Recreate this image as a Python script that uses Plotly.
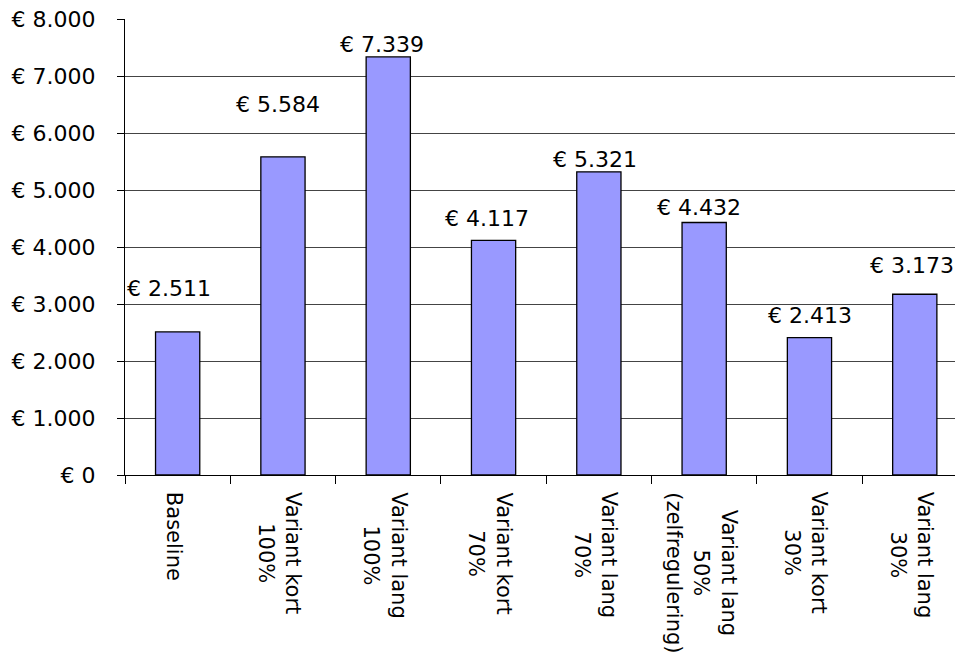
import plotly.graph_objects as go

categories = [
    "Baseline",
    "Variant kort<br>100%",
    "Variant lang<br>100%",
    "Variant kort<br>70%",
    "Variant lang<br>70%",
    "Variant lang<br>50%<br>(zelfregulering)",
    "Variant kort<br>30%",
    "Variant lang<br>30%",
]
values = [2511, 5584, 7339, 4117, 5321, 4432, 2413, 3173]
ytick_vals = [0, 1000, 2000, 3000, 4000, 5000, 6000, 7000, 8000]

# label placement styling (pixel offsets)
label_yshift = [43, 52, 12, 22, 12, 15, 22, 29]
label_xshift = [-9, -5, -6, -7, -4, -5, 1, -3]

FONT = "DejaVu Sans"
FS = 22
FS_CAT = 21

def euro(v):
    return "€ " + f"{v:,}".replace(",", ".")

x_idx = list(range(len(categories)))

fig = go.Figure()
fig.add_trace(go.Bar(
    x=x_idx, y=values, width=0.42,
    marker=dict(color="#9999FF", line=dict(color="#000000", width=1.3)),
    hoverinfo="skip",
))

annotations = []
for i, v in enumerate(values):
    annotations.append(dict(
        x=i, y=v, xref="x", yref="y", text=euro(v), showarrow=False,
        yanchor="middle", xanchor="center",
        yshift=label_yshift[i], xshift=label_xshift[i],
        font=dict(family=FONT, size=FS, color="#000000"),
    ))
    annotations.append(dict(
        x=i, y=0, xref="x", yref="paper", text=categories[i], showarrow=False,
        textangle=90, align="center", xanchor="center", yanchor="top",
        yshift=-15, xshift=-3,
        font=dict(family=FONT, size=FS_CAT, color="#000000"),
    ))

fig.update_layout(
    width=955, height=645,
    margin=dict(l=117, r=0, t=11, b=178),
    paper_bgcolor="white", plot_bgcolor="white",
    showlegend=False,
    font=dict(family=FONT, size=FS, color="#000000"),
    annotations=annotations,
    xaxis=dict(
        type="linear", range=[-0.5, 7.458],
        tickvals=[i - 0.5 for i in x_idx], ticks="outside", ticklen=8,
        tickcolor="#000000", showticklabels=False,
        showgrid=False, zeroline=False,
        showline=True, linecolor="#000000", linewidth=1,
    ),
    yaxis=dict(
        range=[0, 8004], tickvals=ytick_vals,
        ticktext=[euro(v) for v in ytick_vals],
        ticks="outside", ticklen=7, tickcolor="#000000",
        ticklabelstandoff=17, ticklabeloverflow="allow",
        showgrid=True, gridcolor="#444444", gridwidth=1,
        zeroline=False,
        showline=True, linecolor="#000000", linewidth=1,
        tickfont=dict(family=FONT, size=FS, color="#000000"),
    ),
)

fig.write_html("out.html")
